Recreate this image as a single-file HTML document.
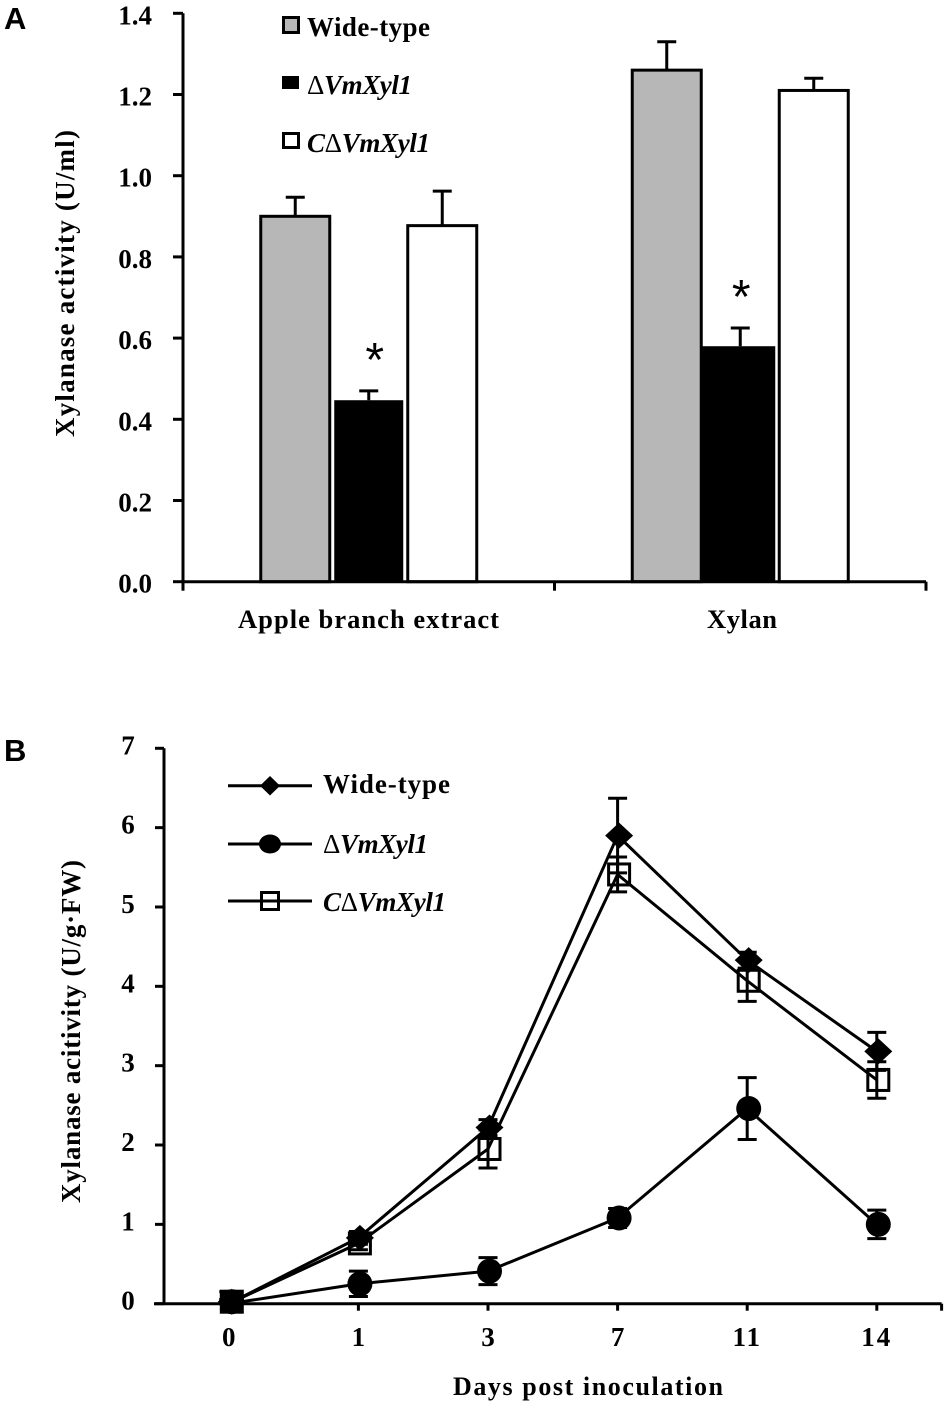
<!DOCTYPE html>
<html>
<head>
<meta charset="utf-8">
<title>Xylanase activity</title>
<style>
html,body{margin:0;padding:0;background:#fff;}
svg{display:block;}
text{font-family:"Liberation Serif",serif;font-weight:bold;fill:#000;}
.ital{font-style:italic;}
.delta{font-weight:normal;font-style:normal;}
.panel{font-family:"Liberation Sans",sans-serif;font-size:31px;}
</style>
</head>
<body>
<svg id="fig" xmlns="http://www.w3.org/2000/svg" width="950" height="1407" viewBox="0 0 950 1407">
  <text class="panel" x="4" y="29">A</text>
  <text class="panel" x="4" y="761">B</text>

  <g id="chartA"></g>
  <text x="0" y="0" transform="translate(74,437) rotate(-90)" font-size="27" textLength="307" lengthAdjust="spacing">Xylanase activity (U/ml)</text>
  <g>
    <rect x="283.5" y="17.5" width="15" height="15" fill="#b7b7b7" stroke="#000" stroke-width="3"/>
    <text x="307" y="36" font-size="27" textLength="123" lengthAdjust="spacing">Wide-type</text>
    <rect x="282" y="76" width="17" height="13" fill="#000"/>
    <text x="307" y="94" font-size="27" textLength="105" lengthAdjust="spacing"><tspan class="delta">Δ</tspan><tspan class="ital">VmXyl1</tspan></text>
    <rect x="283.5" y="133.5" width="15" height="14" fill="#fff" stroke="#000" stroke-width="3"/>
    <text x="307" y="152" font-size="27" textLength="123" lengthAdjust="spacing"><tspan class="ital">C</tspan><tspan class="delta">Δ</tspan><tspan class="ital">VmXyl1</tspan></text>
  </g>

  <g id="chartB"></g>
  <text x="0" y="0" transform="translate(80,1203) rotate(-90)" font-size="27" textLength="343" lengthAdjust="spacing">Xylanase acitivity (U/g·FW)</text>
  <text x="453" y="1395" font-size="26" textLength="270" lengthAdjust="spacing">Days post inoculation</text>
  <g>
    <line x1="228" x2="312" y1="785.7" y2="785.7" stroke="#000" stroke-width="3"/>
    <polygon points="270,776 280,785.7 270,795.5 260,785.7" fill="#000"/>
    <text x="323" y="793" font-size="27" textLength="127" lengthAdjust="spacing">Wide-type</text>
    <line x1="228" x2="312" y1="844" y2="844" stroke="#000" stroke-width="3"/>
    <ellipse cx="270" cy="844" rx="11" ry="9.5" fill="#000"/>
    <text x="323" y="853" font-size="27" textLength="105" lengthAdjust="spacing"><tspan class="delta">Δ</tspan><tspan class="ital">VmXyl1</tspan></text>
    <line x1="228" x2="312" y1="901" y2="901" stroke="#000" stroke-width="3"/>
    <rect x="261.5" y="892.5" width="17" height="17" fill="none" stroke="#000" stroke-width="3"/>
    <text x="323" y="911" font-size="27" textLength="123" lengthAdjust="spacing"><tspan class="ital">C</tspan><tspan class="delta">Δ</tspan><tspan class="ital">VmXyl1</tspan></text>
  </g>
</svg>
<script>
var NS = 'http://www.w3.org/2000/svg';

/* Panel A data */
var barCategories = ['Apple branch extract', 'Xylan'];
var barTicks = [0.0, 0.2, 0.4, 0.6, 0.8, 1.0, 1.2, 1.4];
var barWildType = [0.90, 1.26];
var barWildTypeErr = [0.047, 0.07];
var barKnockout = [0.447, 0.58];
var barKnockoutErr = [0.023, 0.045];
var barComplement = [0.877, 1.21];
var barComplementErr = [0.085, 0.03];
var barStars = ['*', '*'];

/* Panel B data */
var lineCategories = ['0', '1', '3', '7', '11', '14'];
var lineTicks = [0, 1, 2, 3, 4, 5, 6, 7];
var lineWildType = [0, 0.83, 2.22, 5.90, 4.33, 3.18];
var lineWildTypeErr = [0.15, 0.08, 0.10, 0.47, 0.10, 0.24];
var lineKnockout = [0, 0.25, 0.41, 1.08, 2.46, 1.00];
var lineKnockoutErr = [0.05, 0.16, 0.17, 0.12, 0.39, 0.18];
var lineComplement = [0, 0.76, 1.95, 5.41, 4.07, 2.82];
var lineComplementErr = [0.05, 0.08, 0.24, 0.22, 0.26, 0.23];

function mk(parent, tag, attrs) {
  var el = document.createElementNS(NS, tag);
  for (var k in attrs) { el.setAttribute(k, attrs[k]); }
  parent.appendChild(el);
  return el;
}
function seg(parent, x1, y1, x2, y2, name) {
  var el = mk(parent, 'line', {x1: x1, y1: y1, x2: x2, y2: y2, stroke: '#000', 'stroke-width': 3});
  
  
  return el;
}
function label(parent, x, y, str, anchor, size, name) {
  var el = mk(parent, 'text', {x: x, y: y, 'text-anchor': anchor, 'font-size': size});
  el.textContent = str;
  
  
  return el;
}

/* ---------- Panel A ---------- */
(function () {
  var g = document.getElementById('chartA');
  var x0 = 183, x1 = 926, y0 = 581.7, yTop = 13.3, yMax = 1.4;
  var band = (x1 - x0) / barCategories.length;
  function yS(v) { return y0 - (v / yMax) * (y0 - yTop); }
  function xC(i) { return x0 + band * (i + 0.5); }

  var groups = [
    {key: 'wild-type', vals: barWildType, errs: barWildTypeErr, off: -73.5, fill: '#b7b7b7'},
    {key: 'knockout', vals: barKnockout, errs: barKnockoutErr, off: 0, fill: '#000'},
    {key: 'complemented', vals: barComplement, errs: barComplementErr, off: 73.5, fill: '#fff'}
  ];
  groups.forEach(function (s) {
    s.vals.forEach(function (v, i) {
      var cx = xC(i) + s.off, top = yS(v), errTop = yS(v + s.errs[i]);
      seg(g, cx, top, cx, errTop, 'error-stem-' + s.key + '-' + i);
      seg(g, cx - 9.5, errTop, cx + 9.5, errTop, 'error-cap-' + s.key + '-' + i);
      var isKo = s.key === 'knockout';
      var left = cx - 34.5, width = 69;
      if (isKo && i === 1) { left = cx - 39; width = 74; }
      var bar = mk(g, 'rect', {x: left, y: top, width: width, height: y0 - top, fill: s.fill});
      if (!isKo) {
        bar.setAttribute('stroke', '#000');
        bar.setAttribute('stroke-width', 3);
      }
      
      
    });
  });

  seg(g, x0, yTop, x0, y0, 'y-axis-a');
  seg(g, x0, y0, x1, y0, 'x-axis-a');
  barTicks.forEach(function (t, i) {
    seg(g, x0 - 10, yS(t), x0, yS(t), 'y-tick-a-' + i);
    label(g, 152, yS(t) + 11, t.toFixed(1), 'end', 27, 'y-tick-label-a-' + i);
  });
  for (var i = 0; i <= barCategories.length; i++) {
    seg(g, x0 + band * i, y0, x0 + band * i, y0 + 9, 'x-tick-a-' + i);
  }
  var catText = label(g, 238, 628, barCategories[0], 'start', 26.5, 'x-label-apple-branch');
  catText.setAttribute('textLength', 261);
  var catText2 = label(g, 707, 628, barCategories[1], 'start', 26.5, 'x-label-xylan');
  catText2.setAttribute('textLength', 70);

  barStars.forEach(function (s, i) {
    var top = yS(barKnockout[i] + barKnockoutErr[i]);
    var star = label(g, xC(i) + (i === 0 ? 6 : 1), top - 15, s, 'middle', 48, 'significance-star-' + i);
    star.setAttribute('style', 'font-family:"Liberation Sans",sans-serif;font-weight:normal');
  });
})();

/* ---------- Panel B ---------- */
(function () {
  var g = document.getElementById('chartB');
  var x0 = 164, x1 = 941.6, y0 = 1303.7, yTop = 748.3, yMax = 7;
  var band = (x1 - x0) / lineCategories.length;
  function yS(v) { return y0 - (v / yMax) * (y0 - yTop); }
  function xC(i) { return x0 + band * (i + 0.5); }

  seg(g, x0, yTop, x0, y0, 'y-axis-b');
  seg(g, x0 - 10, y0, x1, y0, 'x-axis-b');
  lineTicks.forEach(function (t, i) {
    seg(g, x0 - 9, yS(t), x0, yS(t), 'y-tick-b-' + i);
    label(g, 128, yS(t) + 6, String(t), 'middle', 27, 'y-tick-label-b-' + i);
  });
  lineCategories.forEach(function (c, i) {
    seg(g, xC(i), y0, xC(i), y0 + 7, 'x-tick-b-' + i);
    label(g, xC(i), 1346, c, 'middle', 27, 'x-tick-label-b-' + i).setAttribute('letter-spacing', c.length > 1 ? 2 : 0);
  });
  seg(g, x1, y0, x1, y0 + 7, 'x-tick-b-end');

  var series = [
    {key: 'wild-type', vals: lineWildType, errs: lineWildTypeErr},
    {key: 'knockout', vals: lineKnockout, errs: lineKnockoutErr},
    {key: 'complemented', vals: lineComplement, errs: lineComplementErr}
  ];
  series.forEach(function (s) {
    s.vals.forEach(function (v, i) {
      var cx = xC(i), hi = yS(v + s.errs[i]), lo = yS(Math.max(0, v - s.errs[i]));
      seg(g, cx, hi, cx, lo, 'error-stem-' + s.key + '-' + i);
      seg(g, cx - 9.5, hi, cx + 9.5, hi, 'error-cap-top-' + s.key + '-' + i);
      seg(g, cx - 9.5, lo, cx + 9.5, lo, 'error-cap-bottom-' + s.key + '-' + i);
    });
    var pts = s.vals.map(function (v, i) { return xC(i) + ',' + yS(v); }).join(' ');
    var line = mk(g, 'polyline', {points: pts, fill: 'none', stroke: '#000', 'stroke-width': 3});
    
    
    s.vals.forEach(function (v, i) {
      var cx = xC(i) + (i === 0 ? 3 : 1.5), cy = yS(v) - (i === 0 ? 2 : 0), m;
      if (s.key === 'wild-type') {
        m = mk(g, 'polygon', {points: cx + ',' + (cy - 13) + ' ' + (cx + 14) + ',' + cy + ' ' + cx + ',' + (cy + 13) + ' ' + (cx - 14) + ',' + cy, fill: '#000'});
      } else if (s.key === 'knockout') {
        m = mk(g, 'circle', {cx: cx, cy: cy, r: 12.5, fill: '#000'});
      } else {
        m = mk(g, 'rect', {x: cx - 10.5, y: cy - 10.5, width: 21, height: 21, fill: i === 0 ? '#000' : 'none', stroke: '#000', 'stroke-width': 3});
      }
      
      
    });
  });
})();
</script>
</body>
</html>
